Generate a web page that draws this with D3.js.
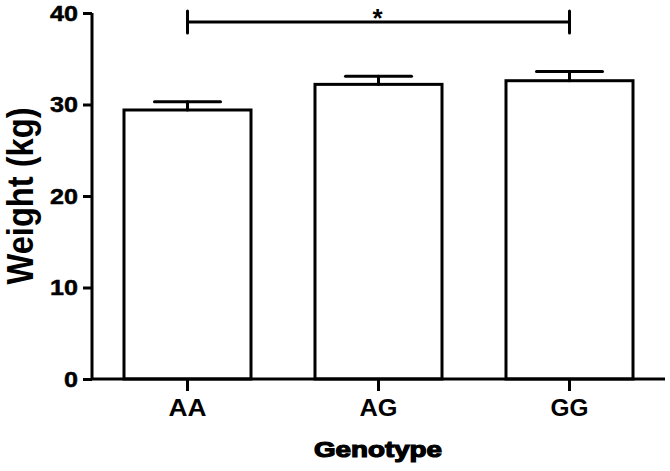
<!DOCTYPE html>
<html>
<head>
<meta charset="utf-8">
<script src="https://cdn.jsdelivr.net/npm/d3@7"></script>
<style>
  body { margin: 0; background: #fff; }
  svg { display: block; font-family: "Liberation Sans", Arial, sans-serif; }
</style>
</head>
<body>
<svg id="chart"></svg>
<script>
const genotypes = ['AA', 'AG', 'GG'];
const weightMean = [29.4, 32.2, 32.6];
const weightSem = [0.9, 0.9, 1.0];
const yTicks = [0, 10, 20, 30, 40];
const sigPair = ['AA', 'GG'];
const sigLevel = 40;
const sigLabel = '*';

const width = 670;
const height = 471;
const margin = { top: 13, right: 5, bottom: 92, left: 92 };

const svg = d3.select('#chart')
  .attr('width', width)
  .attr('height', height);

const x = d3.scaleBand()
  .domain(genotypes)
  .range([margin.left, width - margin.right])
  .paddingInner(0.335)
  .paddingOuter(0.1675);

const y = d3.scaleLinear()
  .domain([0, 40])
  .range([height - margin.bottom, margin.top]);

const data = genotypes.map((g, i) => ({ g, mean: weightMean[i], sem: weightSem[i] }));

// bars
svg.append('g')
  .selectAll('rect')
  .data(data)
  .join('rect')
  .attr('x', d => x(d.g))
  .attr('y', d => y(d.mean))
  .attr('width', x.bandwidth())
  .attr('height', d => y(0) - y(d.mean))
  .attr('fill', '#fff')
  .attr('stroke', '#000')
  .attr('stroke-width', 3);

// error bars (upper only)
const capHalf = x.bandwidth() * 0.26;
const err = svg.append('g')
  .attr('stroke', '#000')
  .attr('stroke-width', 3)
  .attr('stroke-linecap', 'round');
err.selectAll('line.stem')
  .data(data)
  .join('line')
  .attr('class', 'stem')
  .attr('x1', d => x(d.g) + x.bandwidth() / 2)
  .attr('x2', d => x(d.g) + x.bandwidth() / 2)
  .attr('y1', d => y(d.mean))
  .attr('y2', d => y(d.mean + d.sem));
err.selectAll('line.cap')
  .data(data)
  .join('line')
  .attr('class', 'cap')
  .attr('x1', d => x(d.g) + x.bandwidth() / 2 - capHalf)
  .attr('x2', d => x(d.g) + x.bandwidth() / 2 + capHalf)
  .attr('y1', d => y(d.mean + d.sem))
  .attr('y2', d => y(d.mean + d.sem));

// y axis
const yAxis = svg.append('g')
  .attr('transform', `translate(${margin.left},0)`)
  .call(d3.axisLeft(y).tickValues(yTicks).tickSize(9).tickPadding(5));
yAxis.select('.domain').attr('stroke-width', 3).attr('d', `M0,${y(0)}V${y(40)}`);
yAxis.selectAll('.tick line').attr('stroke-width', 3);
yAxis.selectAll('.tick text')
  .attr('font-size', 22)
  .attr('font-weight', 'bold')
  .attr('fill', '#000')
  .attr('stroke', '#000')
  .attr('stroke-width', 0.5)
  .attr('textLength', d => String(d).length * 14)
  .attr('lengthAdjust', 'spacingAndGlyphs');

// x axis
const xAxis = svg.append('g')
  .attr('transform', `translate(0,${y(0)})`)
  .call(d3.axisBottom(x).tickSize(12).tickPadding(9));
xAxis.select('.domain').attr('stroke-width', 3).attr('d', `M${margin.left},0H${width - margin.right}`);
xAxis.selectAll('.tick line').attr('stroke-width', 3);
xAxis.selectAll('.tick text')
  .attr('font-size', 23)
  .attr('font-weight', 'bold')
  .attr('fill', '#000')
  .attr('textLength', 38)
  .attr('lengthAdjust', 'spacingAndGlyphs');

// axis titles
svg.append('text')
  .attr('transform', `translate(33,${(y(0) + y(40)) / 2}) rotate(-90)`)
  .attr('text-anchor', 'middle')
  .attr('font-size', 36)
  .attr('font-weight', 'bold')
  .attr('textLength', 177)
  .attr('lengthAdjust', 'spacingAndGlyphs')
  .text('Weight (kg)');

svg.append('text')
  .attr('x', (margin.left + width - margin.right) / 2 - 0.5)
  .attr('y', 457)
  .attr('text-anchor', 'middle')
  .attr('font-size', 21.5)
  .attr('font-weight', 'bold')
  .attr('stroke', '#000')
  .attr('stroke-width', 1.2)
  .attr('textLength', 128)
  .attr('lengthAdjust', 'spacingAndGlyphs')
  .text('Genotype');

// significance bracket
const x1 = x(sigPair[0]) + x.bandwidth() / 2;
const x2 = x(sigPair[1]) + x.bandwidth() / 2;
const yb = y(sigLevel) + 9;
const br = svg.append('g')
  .attr('stroke', '#000')
  .attr('stroke-width', 3)
  .attr('stroke-linecap', 'round');
br.append('line').attr('x1', x1).attr('x2', x2).attr('y1', yb).attr('y2', yb);
br.append('line').attr('x1', x1).attr('x2', x1).attr('y1', yb - 11).attr('y2', yb + 11);
br.append('line').attr('x1', x2).attr('x2', x2).attr('y1', yb - 11).attr('y2', yb + 11);
svg.append('text')
  .attr('x', (x1 + x2) / 2 - 1)
  .attr('y', yb + 5)
  .attr('text-anchor', 'middle')
  .attr('font-size', 26)
  .attr('font-weight', 'bold')
  .text(sigLabel);
</script>
</body>
</html>
